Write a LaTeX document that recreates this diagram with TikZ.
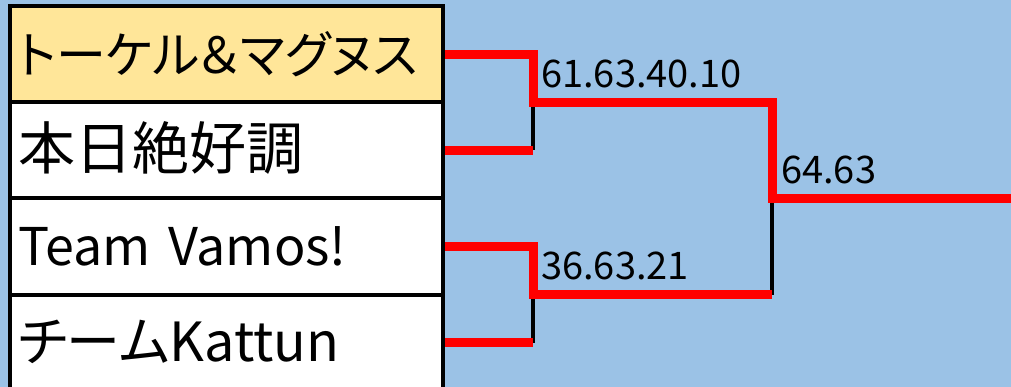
\documentclass[tikz,border=0pt]{standalone}
\usepackage{fontspec}
\setmainfont{Noto Sans CJK JP}[RawFeature=+palt]
\usetikzlibrary{calc,positioning}
\definecolor{haikei}{HTML}{9BC2E6}
\definecolor{kiiro}{HTML}{FFE699}
\tikzset{
  team/.style={draw, line width=4pt, fill=white, minimum width=433pt, minimum height=96pt,
    inner xsep=8pt, inner ysep=0pt, text width=417pt, align=left,
    text height=38pt, text depth=0pt, font=\fontsize{52}{56}\selectfont},
  win/.style={red, line width=9pt},
  lose/.style={black, line width=3.5pt},
  score/.style={anchor=base west, inner sep=0pt, font=\fontsize{38}{40}\selectfont}
}

\begin{document}
\begin{tikzpicture}[x=1pt, y=-1pt]
\useasboundingbox (0,0) rectangle (1011,387);
\fill[haikei] (0,0) rectangle (1011,387);
% チーム
\node[team, fill=kiiro, font=\fontsize{50}{54}\selectfont] (tokel) at (226.5,54.5) {トーケル＆マグヌス};
\node[team, below=-4pt of tokel, font=\fontsize{57}{60}\selectfont] (honjitsu) {本日絶好調};
\node[team, below=-4pt of honjitsu] (vamos) {Team Vamos!};
\node[team, below=-4pt of vamos, font=\fontsize{54}{58}\selectfont] (kattun) {チームKattun};
% 分岐点
\coordinate (m1) at ($(tokel.east)!0.5!(honjitsu.east) + (88,0)$);
\coordinate (m2) at ($(vamos.east)!0.5!(kattun.east) + (88,0)$);
\coordinate (fin) at ($(m1)!0.5!(m2) + (239,0)$);
\coordinate (goal) at ($(fin) + (250,0)$);
% 負け側
\draw[lose] (m1) -- (m1 |- honjitsu.east);
\draw[lose] (m2) -- (m2 |- kattun.east);
\draw[lose] (fin) -- (fin |- m2);
% 勝ち上がり
\draw[win] (tokel.east) -| (m1) -| (fin) -- (goal);
\draw[win] (honjitsu.east) -- (m1 |- honjitsu.east);
\draw[win] (vamos.east) -| (m2) -- (m2 -| fin);
\draw[win] (kattun.east) -- (m2 |- kattun.east);
% スコア
\node[score] (s1) at ($(m1) + (8,-15)$) {61.63.40.10};
\node[score] (s2) at ($(m2) + (8,-15)$) {36.63.21};
\node[score] (s3) at ($(fin) + (9,-15)$) {64.63};
\end{tikzpicture}
\end{document}
